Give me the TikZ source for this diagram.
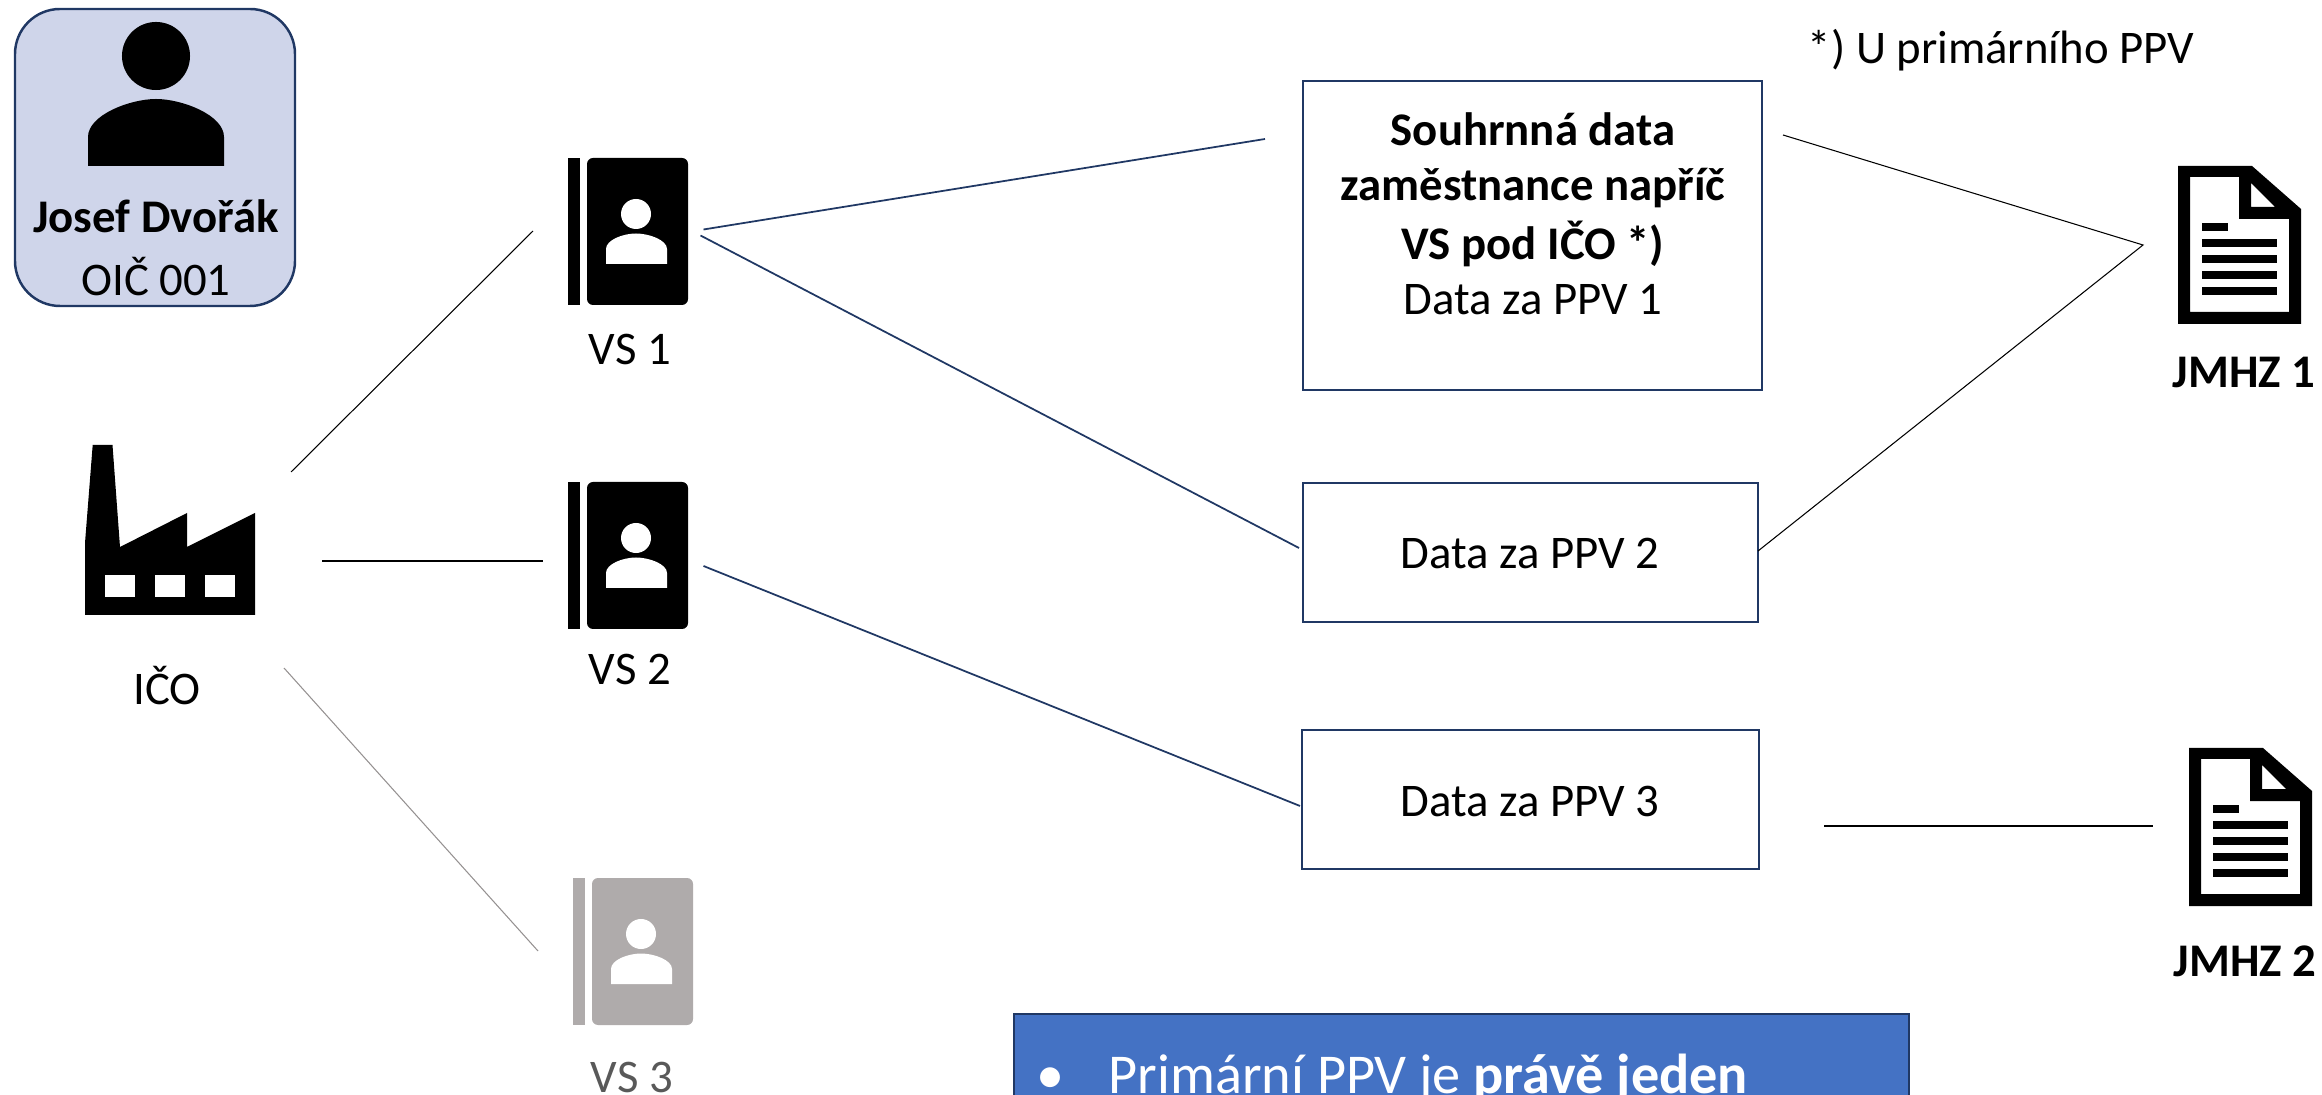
\documentclass[tikz,border=0pt]{standalone}
\usepackage{fontspec}
\setmainfont{Carlito}
\definecolor{navy}{HTML}{203864}
\definecolor{personblue}{HTML}{CFD5EA}
\definecolor{notice}{HTML}{4472C4}
\definecolor{vsgrey}{HTML}{AFABAB}
\definecolor{vstext}{HTML}{595959}
\tikzset{
  label text/.style={font=\fontsize{13.3}{16}\selectfont, inner sep=0pt, align=center},
  data box/.style={draw=navy, line width=.55pt, fill=white},
  thin link/.style={line width=.3pt, black},
  navy link/.style={line width=.5pt, navy},
}
\begin{document}
\begin{tikzpicture}[x=.01cm, y=-.01cm]
  \useasboundingbox (0,0) rectangle (2322,1095);
  \clip (0,0) rectangle (2322,1095);

  % employee card
  \draw[draw=navy, line width=.7pt, fill=personblue, rounded corners=.45cm] (15,9) rectangle (295,306);
  \fill (156,56) circle (.34cm);
  \fill (88,166) -- (88,137) .. controls (88,115) and (130,99) .. (156,99) .. controls (182,99) and (224,115) .. (224,137) -- (224,166) -- cycle;
  \node[label text] (name) at (156,216) {\textbf{Josef Dvořák}};
  \node[label text] (oic) at (156,277) {OIČ 001};

  % factory
  \fill (92.7,445) -- (112.5,445) -- (120,547) -- (187,513) -- (187,547) -- (255,513) -- (255,615) -- (85,615) -- (85,543) -- cycle;
  \foreach \i in {105,155,205}
  {
      \fill[white] (\i,575) rectangle ++(30,22);
  }
  \node[label text] (ico) at (167,686) {IČO};

  % address books
  \foreach \bx/\by/\bcol in {568/158/black,568/482/black,573/878/vsgrey}
  {
    \begin{scope}[shift={(\bx,\by)}]
      \fill[\bcol] (0,0) rectangle (12,147);
      \fill[\bcol, rounded corners=.06cm] (19,147) -- (19,0) -- (120,0) -- (120,147) -- cycle;
      \fill[white] (68,56) circle (.15cm);
      \fill[white] (38,106) -- (38,91) .. controls (38,82) and (55,75.5) .. (68,75.5) .. controls (81,75.5) and (99,82) .. (99,91) -- (99,106) -- cycle;
    \end{scope}
  }
  \node[label text] (vs1) at (630,349) {VS 1};
  \node[label text] (vs2) at (630,669) {VS 2};
  \node[label text, text=vstext] (vs3) at (632,1077) {VS 3};

  % data boxes
  \draw[data box] (1303,81) rectangle (1762,390);
  \draw[data box] (1303,483) rectangle (1758,622);
  \draw[data box] (1302,730) rectangle (1759,869);
  \node[label text] (sum1) at (1533,129) {\textbf{Souhrnná data}};
  \node[label text] (sum2) at (1533,188) {\textbf{zaměstnance napříč}};
  \node[label text] (sum3) at (1533,244) {\textbf{VS pod IČO *)}};
  \node[label text] (sum4) at (1533,300) {Data za PPV 1};
  \node[label text] (ppv2) at (1530,553) {Data za PPV 2};
  \node[label text] (ppv3) at (1530,801) {Data za PPV 3};
  \node[label text] (note) at (2001,50) {*) U primárního PPV};

  % documents
  \foreach \dx/\dy in {0/0,11/582}
  {
    \begin{scope}[shift={(\dx,\dy)}]
      \fill[even odd rule] (2178,166) -- (2252,166) -- (2301,209) -- (2301,324) -- (2178,324) -- cycle
        (2190,177) -- (2239,177) -- (2239,219) -- (2289,219) -- (2289,312) -- (2190,312) -- cycle
        (2251,183) -- (2275,207) -- (2251,207) -- cycle;
      \fill (2202,223) rectangle (2228,231);
      \foreach \i in {239,255,271,287}
      {
          \fill (2202,\i) rectangle (2277,\i+8);
      }
    \end{scope}
  }
  \node[label text] (jmhz1) at (2244,372) {\textbf{JMHZ 1}};
  \node[label text, anchor=west] (jmhz2) at (2173,961) {\textbf{JMHZ 2}};

  % free ends of the links
  \coordinate (ico a) at (291,472);
  \coordinate (ico b) at (322,561);
  \coordinate (ico c) at (284,668);
  \coordinate (vs1 in) at (533,231);
  \coordinate (vs2 in) at (543,561);
  \coordinate (vs3 in) at (538,951);
  \coordinate (vs1 a) at (703.5,229.5);
  \coordinate (vs1 b) at (700.5,235.5);
  \coordinate (vs2 a) at (703.5,566);
  \coordinate (sum in) at (1265,139);
  \coordinate (ppv2 in) at (1299,548);
  \coordinate (ppv3 in) at (1300,806);
  \coordinate (sum out) at (1783,135);
  \coordinate (ppv2 out) at (1758,551);
  \coordinate (ppv3 out) at (1824,826);
  \coordinate (doc1 in) at (2143,245);
  \coordinate (doc2 in) at (2153,826);

  \draw[thin link] (ico a) -- (vs1 in);
  \draw[thin link] (ico b) -- (vs2 in);
  \draw[line width=.3pt, vsgrey!85!black] (ico c) -- (vs3 in);
  \draw[navy link] (vs1 a) -- (sum in);
  \draw[navy link] (vs1 b) -- (ppv2 in);
  \draw[navy link] (vs2 a) -- (ppv3 in);
  \draw[thin link] (sum out) -- (doc1 in) -- (ppv2 out);
  \draw[thin link] (ppv3 out) -- (doc2 in);

  % notice, cut off by the page
  \draw[draw=navy, line width=.55pt, fill=notice] (1014,1014) rectangle (1909,1120);
  \node[font=\fontsize{16}{19}\selectfont, text=white, inner sep=0pt, anchor=base west] (bullet) at (1036,1093) {•};
  \node[font=\fontsize{16}{19}\selectfont, text=white, inner sep=0pt, anchor=base west] (primary) at (1108,1093) {Primární PPV je \textbf{právě jeden}};
\end{tikzpicture}
\end{document}
